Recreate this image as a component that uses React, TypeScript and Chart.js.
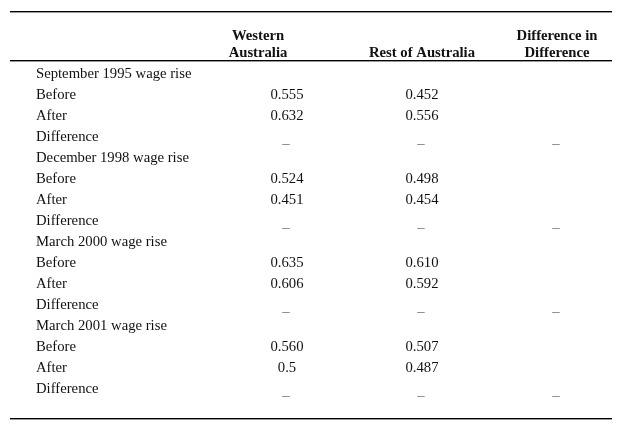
import React, { useEffect, useRef } from 'react';
import { Chart, registerables } from 'chart.js';

Chart.register(...registerables);

const rowLabels = [
  'September 1995 wage rise', 'Before', 'After', 'Difference',
  'December 1998 wage rise', 'Before', 'After', 'Difference',
  'March 2000 wage rise', 'Before', 'After', 'Difference',
  'March 2001 wage rise', 'Before', 'After', 'Difference',
];

const columnNames = ['Western Australia', 'Rest of Australia', 'Difference in Difference'];
const columnHeaderLines = [['Western', 'Australia'], ['Rest of Australia'], ['Difference in', 'Difference']];

const westernAustralia = [
  '', '0.555', '0.632', '–',
  '', '0.524', '0.451', '–',
  '', '0.635', '0.606', '–',
  '', '0.560', '0.5', '–',
];
const restOfAustralia = [
  '', '0.452', '0.556', '–',
  '', '0.498', '0.454', '–',
  '', '0.610', '0.592', '–',
  '', '0.507', '0.487', '–',
];
const differenceInDifference = [
  '', '', '', '–',
  '', '', '', '–',
  '', '', '', '–',
  '', '', '', '–',
];

// ---- Styling / layout ----
const FONT = "'Liberation Serif', 'Times New Roman', serif";
const FONT_SIZE = 14.7;
const TEXT_COLOR = '#111';
const DASH_COLOR = '#6e6e6e';
const HEADER_OFFSETS = [-29, 0, 0];
const RULE_LEFT = 10;
const RULE_RIGHT = 612;
const RULES_Y = [11, 60, 418];
const HEADER_BASELINES = [39.5, 57]; // second-to-last line, last line

export default function App() {
  const ref = useRef<HTMLCanvasElement | null>(null);

  useEffect(() => {
    if (!ref.current) return;
    const columns = [westernAustralia, restOfAustralia, differenceInDifference];
    const datasets = columns.map((col, c) => ({
      label: columnNames[c],
      data: col.map((text, r) => ({ x: columnNames[c], y: rowLabels[r], text })),
      pointRadius: 0,
      pointHoverRadius: 0,
      showLine: false,
    }));

    const tablePlugin = {
      id: 'tablePlugin',
      beforeDraw(chart: any) {
        const ctx = chart.ctx;
        ctx.save();
        ctx.fillStyle = '#fff';
        ctx.fillRect(0, 0, chart.width, chart.height);
        ctx.restore();
      },
      afterDatasetsDraw(chart: any) {
        const ctx = chart.ctx;
        ctx.save();
        ctx.textAlign = 'center';
        ctx.textBaseline = 'middle';
        chart.data.datasets.forEach((ds: any, d: number) => {
          const meta = chart.getDatasetMeta(d);
          meta.data.forEach((el: any, i: number) => {
            const text = ds.data[i].text;
            if (!text) return;
            ctx.font = `${FONT_SIZE}px ${FONT}`;
            if (text === '–') {
              ctx.fillStyle = DASH_COLOR;
              ctx.fillText(text, el.x - 1, el.y + 7.5);
            } else {
              ctx.fillStyle = TEXT_COLOR;
              ctx.fillText(text, el.x, el.y);
            }
          });
        });
        ctx.restore();
      },
      afterDraw(chart: any) {
        const ctx = chart.ctx;
        const xScale = chart.scales.x;
        ctx.save();
        ctx.fillStyle = '#000';
        RULES_Y.forEach((y) => {
          ctx.fillRect(RULE_LEFT, y, RULE_RIGHT - RULE_LEFT, 1.4);
        });
        ctx.font = `bold ${FONT_SIZE}px ${FONT}`;
        ctx.fillStyle = TEXT_COLOR;
        ctx.textAlign = 'center';
        ctx.textBaseline = 'alphabetic';
        columnHeaderLines.forEach((lines, c) => {
          const x = xScale.getPixelForValue(c) + HEADER_OFFSETS[c];
          const n = lines.length;
          lines.forEach((line, k) => {
            const baseline = HEADER_BASELINES[HEADER_BASELINES.length - n + k];
            ctx.fillText(line, x, baseline);
          });
        });
        ctx.restore();
      },
    };

    const chart = new Chart(ref.current, {
      type: 'scatter',
      data: { datasets } as any,
      options: {
        responsive: false,
        animation: false,
        events: [],
        layout: { padding: { left: 36, right: 10.5, top: 63.4, bottom: 27.6 } },
        plugins: { legend: { display: false }, tooltip: { enabled: false } },
        scales: {
          x: {
            type: 'category',
            labels: columnNames,
            offset: true,
            display: false,
          },
          y: {
            type: 'category',
            labels: rowLabels,
            offset: true,
            position: 'left',
            grid: { display: false },
            border: { display: false },
            ticks: {
              autoSkip: false,
              crossAlign: 'far',
              padding: 0,
              color: TEXT_COLOR,
              font: { family: FONT, size: FONT_SIZE },
            },
            afterFit(scale: any) {
              scale.width = 183.5;
            },
          },
        },
      } as any,
      plugins: [tablePlugin],
    });
    return () => chart.destroy();
  }, []);

  return (
    <div style={{ position: 'fixed', left: 0, top: 0, width: 635, height: 427, background: '#fff' }}>
      <canvas ref={ref} width={635} height={427} style={{ display: 'block' }} />
    </div>
  );
}
